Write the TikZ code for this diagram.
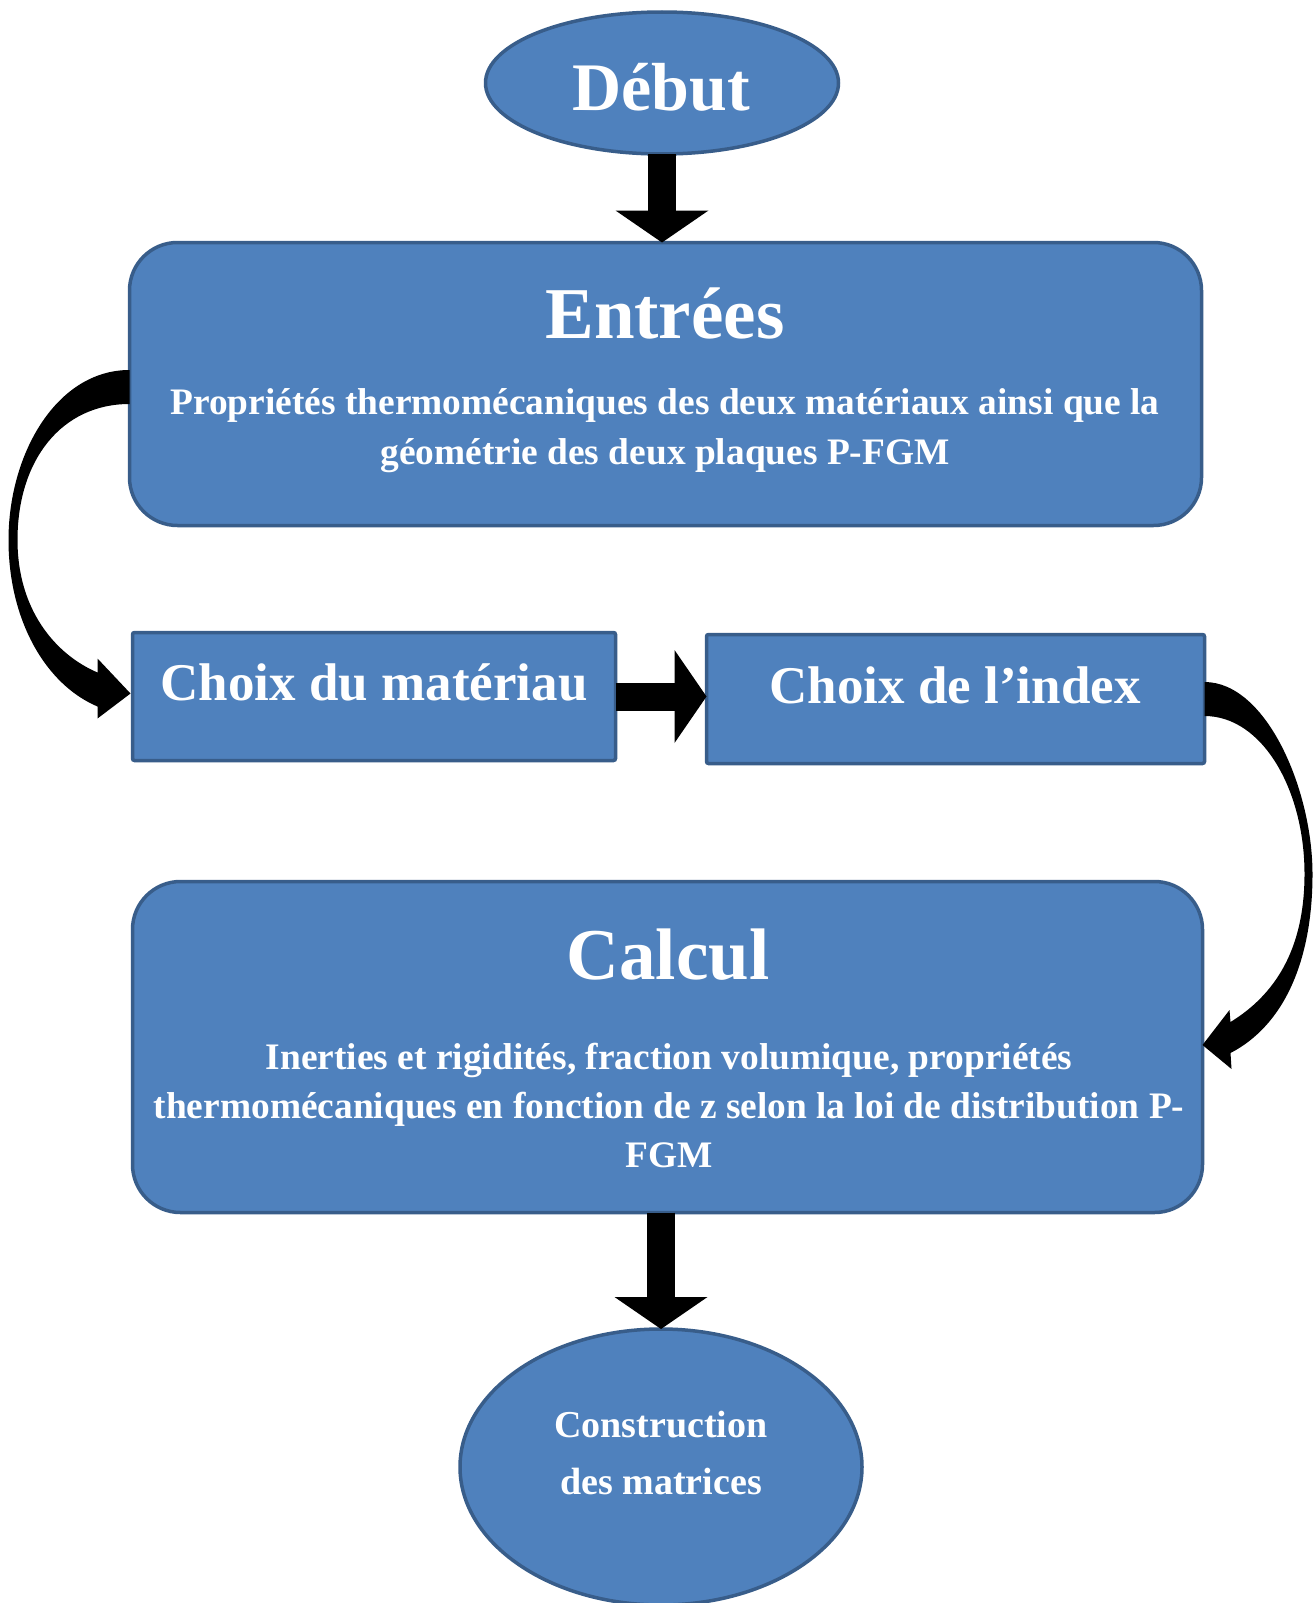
\documentclass[tikz,border=0pt]{standalone}
\usepackage{fontspec}
\setmainfont{Liberation Serif}
\usetikzlibrary{shapes.geometric,arrows.meta,calc}
\definecolor{boxfill}{HTML}{4F81BD}
\definecolor{boxline}{HTML}{385D8A}
\begin{document}
\begin{tikzpicture}[x=1pt,y=-1pt,
  shapebase/.style={draw=boxline,fill=boxfill,line width=3.5pt,inner sep=0pt,outer sep=0pt},
  oval/.style={shapebase,ellipse},
  bigbox/.style={shapebase,rectangle,rounded corners=48pt},
  smallbox/.style={shapebase,rectangle,rounded corners=2pt},
  lbl/.style={text=white,inner sep=0pt,outer sep=0pt,anchor=base},
  sizeA/.style={font=\bfseries\fontsize{68}{68}\selectfont},
  sizeB/.style={font=\bfseries\fontsize{73}{73}\selectfont},
  sizeC/.style={font=\bfseries\fontsize{37.4}{37.4}\selectfont},
  sizeD/.style={font=\bfseries\fontsize{53}{53}\selectfont},
  sizeE/.style={font=\bfseries\fontsize{38}{38}\selectfont},
  blockarrow/.style={draw=black,line width=28pt,-{Triangle[width=93pt,length=32pt,line width=0pt]}},
  curvedarrow/.style={fill=black}
]
\path[use as bounding box] (0,0) rectangle (1314,1603);
\clip (0,0) rectangle (1314,1603);
\fill[white] (0,0) rectangle (1314,1603);

% shapes
\node[oval,minimum width=353pt,minimum height=142pt] (debut) at (662,83) {};
\node[bigbox,minimum width=1072pt,minimum height=283pt] (entrees) at (665.5,384) {};
\node[smallbox,minimum width=483pt,minimum height=128pt] (choix1) at (374,696.5) {};
\node[smallbox,minimum width=498pt,minimum height=129pt] (choix2) at (955.5,699) {};
\node[bigbox,minimum width=1070pt,minimum height=331pt] (calcul) at (667.5,1047) {};
\node[oval,minimum width=402pt,minimum height=276pt] (final) at (661,1467) {};

% texts
\node[lbl,sizeA] (tdebut) at (661,110) {Début};
\node[lbl,sizeB] (tentrees) at (665,338) {Entrées};
\node[lbl,sizeC] (tprop1) at (665,414) {Propriétés thermomécaniques des deux matériaux ainsi que la};
\node[lbl,sizeC] (tprop2) at (665,464) {géométrie des deux plaques P-FGM};
\node[lbl,sizeD] (tchoix1) at (374,700) {Choix du matériau};
\node[lbl,sizeD] (tchoix2) at (955,703) {Choix de l’index};
\node[lbl,sizeB] (tcalcul) at (668,979) {Calcul};
\node[lbl,sizeC] (tcal1) at (669,1069) {Inerties et rigidités, fraction volumique, propriétés};
\node[lbl,sizeC] (tcal2) at (669,1118) {thermomécaniques en fonction de z selon la loi de distribution P-};
\node[lbl,sizeC] (tcal3) at (669,1167) {FGM};
\node[lbl,sizeE] (tfin1) at (661,1437) {Construction};
\node[lbl,sizeE] (tfin2) at (661,1494) {des matrices};

% straight block arrows
\draw[blockarrow] (debut.south) -- (debut.south |- entrees.north);
\draw[blockarrow] (choix1.east) -- (choix1.east -| choix2.west);
\draw[blockarrow] (final.north |- calcul.south) -- (final.north);

% curved arrows
\coordinate (la) at (entrees.west);
\coordinate (lb) at (choix1.west);
\fill[curvedarrow] ($(la)+(0,-14)$) .. controls ($(la)+(-73,-14)$) and ($(la)+(-121,70)$) .. ($(la)+(-121,156)$)
  .. controls ($(la)+(-121,236)$) and ($(lb)+(-87,-12)$) .. ($(lb)+(-35,10)$)
  -- ($(lb)+(-35,22)$) -- ($(lb)+(-2,-3)$) -- ($(lb)+(-35,-38)$) -- ($(lb)+(-35,-24)$)
  .. controls ($(lb)+(-77,-42)$) and ($(la)+(-112,226)$) .. ($(la)+(-112,156)$)
  .. controls ($(la)+(-112,76)$) and ($(la)+(-68,20)$) .. ($(la)+(0,20)$) -- cycle;

\coordinate (ra) at (choix2.east);
\coordinate (rb) at (calcul.east);
\fill[curvedarrow] ($(ra)+(0,-17)$) .. controls ($(ra)+(62,-17)$) and ($(ra)+(108,91)$) .. ($(ra)+(108,175)$)
  .. controls ($(ra)+(108,261)$) and ($(rb)+(82,-22)$) .. ($(rb)+(28,6)$)
  -- ($(rb)+(29,22)$) -- ($(rb)+(0,-2)$) -- ($(rb)+(27,-37)$) -- ($(rb)+(28,-25)$)
  .. controls ($(rb)+(72,-52)$) and ($(ra)+(100,251)$) .. ($(ra)+(100,175)$)
  .. controls ($(ra)+(100,91)$) and ($(ra)+(58,17)$) .. ($(ra)+(0,17)$) -- cycle;
\end{tikzpicture}
\end{document}
